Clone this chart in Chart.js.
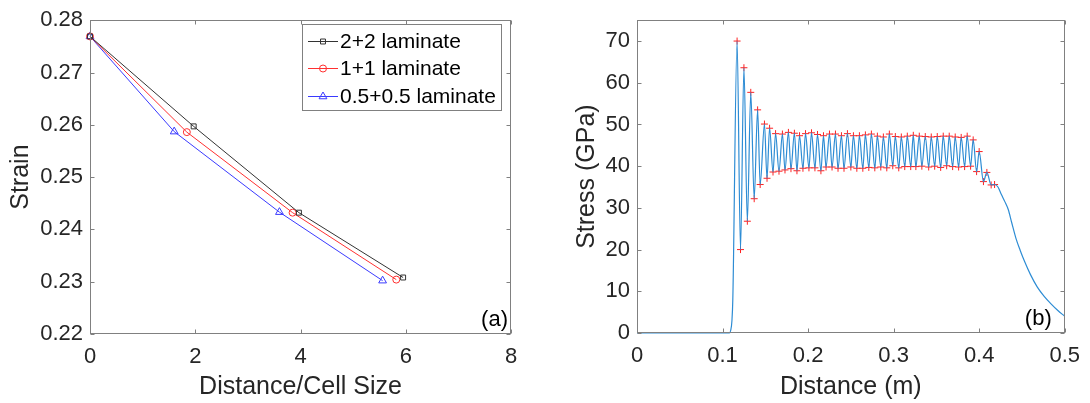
<!DOCTYPE html>
<html>
<head>
<meta charset="utf-8">
<script src="https://cdn.jsdelivr.net/npm/chart.js@4.4.0/dist/chart.umd.min.js"></script>
<style>
  body { margin: 0; background: #fff; width: 1090px; height: 403px; overflow: hidden; position: relative; }
  canvas { position: absolute; top: 0; }
  #chartA { left: 0; }
  #chartB { left: 540px; }
</style>
</head>
<body>
<canvas id="chartA" width="540" height="403"></canvas>
<canvas id="chartB" width="550" height="403"></canvas>
<script>
// ---- panel (a): strain vs distance / cell size ----
const seriesNames = ["2+2 laminate", "1+1 laminate", "0.5+0.5 laminate"];
const x22 = [0, 1.97, 3.97, 5.95];
const y22 = [0.2769, 0.2597, 0.2432, 0.2308];
const x11 = [0, 1.84, 3.85, 5.82];
const y11 = [0.2769, 0.2586, 0.2432, 0.2304];
const x05 = [0, 1.60, 3.60, 5.56];
const y05 = [0.2769, 0.2587, 0.2433, 0.2302];
const xTicksA = [0, 2, 4, 6, 8];
const yTicksA = [0.22, 0.23, 0.24, 0.25, 0.26, 0.27, 0.28];

// ---- panel (b): stress vs distance ----
const riseX = [0, 0.108, 0.1095, 0.111, 0.112];
const riseY = [0, 0, 0.6, 3, 8];
const peakX = [0.117, 0.125, 0.133, 0.141, 0.149, 0.155, 0.162, 0.170, 0.177, 0.184,
               0.190, 0.197, 0.204, 0.211, 0.218, 0.225, 0.232, 0.239, 0.246, 0.253,
               0.260, 0.267, 0.274, 0.281, 0.288, 0.295, 0.302, 0.309, 0.316, 0.323,
               0.330, 0.337, 0.344, 0.351, 0.358, 0.365, 0.372, 0.379, 0.386, 0.393,
               0.400, 0.409];
const peakY = [70.0, 63.6, 57.7, 53.5, 50.1, 49.1, 47.8, 47.7, 48.1, 47.9,
               47.3, 47.8, 48.0, 47.6, 47.3, 47.7, 47.7, 47.3, 47.8, 47.3,
               47.3, 47.5, 47.7, 47.2, 47.0, 47.7, 47.1, 47.0, 47.2, 47.4,
               47.2, 47.1, 47.0, 47.1, 47.2, 47.2, 47.0, 46.9, 47.2, 46.3,
               43.5, 38.5];
const troughX = [0.121, 0.129, 0.137, 0.144, 0.152, 0.159, 0.166, 0.173, 0.180, 0.187,
                 0.194, 0.201, 0.208, 0.215, 0.221, 0.228, 0.235, 0.242, 0.250, 0.257,
                 0.264, 0.271, 0.278, 0.285, 0.292, 0.299, 0.306, 0.313, 0.320, 0.326,
                 0.333, 0.341, 0.348, 0.355, 0.362, 0.369, 0.376, 0.383, 0.390, 0.397,
                 0.405];
const troughY = [20.0, 26.8, 32.2, 35.6, 37.1, 38.6, 38.8, 39.1, 39.4, 38.9,
                 39.5, 39.6, 39.6, 38.9, 39.8, 39.8, 39.5, 39.5, 39.8, 39.5,
                 39.5, 39.7, 39.6, 39.8, 39.6, 40.1, 39.6, 39.9, 39.9, 39.9,
                 40.0, 39.8, 40.0, 39.7, 40.1, 39.9, 39.8, 39.9, 40.0, 38.7,
                 36.3];
const endX = [0.414, 0.418];
const endY = [35.5, 35.6];
const tailX = [0.422, 0.426, 0.430, 0.434, 0.438, 0.443, 0.448, 0.453, 0.460, 0.468, 0.476, 0.484, 0.492, 0.500];
const tailY = [35.0, 33.2, 31.5, 29.6, 26.5, 22.7, 19.8, 17.2, 14.0, 11.0, 8.8, 7.0, 5.4, 4.0];
const xTicksB = [0, 0.1, 0.2, 0.3, 0.4, 0.5];
const yTicksB = [0, 10, 20, 30, 40, 50, 60, 70];

const FONT = "'Liberation Sans', Arial, Helvetica, sans-serif";
const TXT = "#262626";
const AXIS = "#808080";

const pts = (xs, ys) => xs.map((x, i) => ({ x, y: ys[i] }));

// MATLAB style box: border + inward ticks on all four sides + panel tag
const matlabBox = {
    id: "matlabBox",
    afterDatasetsDraw(chart, args, o) {
        const { ctx, chartArea: a, scales } = chart;
        const L = Math.round(a.left) + 0.5, R = Math.round(a.right) - 0.5;
        const T = Math.round(a.top) + 0.5, B = Math.round(a.bottom) - 0.5;
        ctx.save();
        ctx.strokeStyle = AXIS;
        ctx.lineWidth = 1;
        ctx.strokeRect(L, T, R - L, B - T);
        const t = 4;
        ctx.beginPath();
        scales.x.ticks.forEach(tk => {
            let px = Math.round(scales.x.getPixelForValue(tk.value)) + 0.5;
            ctx.moveTo(px, B); ctx.lineTo(px, B - t);
            ctx.moveTo(px, T); ctx.lineTo(px, T + t);
        });
        scales.y.ticks.forEach(tk => {
            let py = Math.round(scales.y.getPixelForValue(tk.value)) + 0.5;
            ctx.moveTo(L, py); ctx.lineTo(L + t, py);
            ctx.moveTo(R, py); ctx.lineTo(R - t, py);
        });
        ctx.stroke();
        ctx.fillStyle = "#000";
        ctx.font = "22px " + FONT;
        ctx.textAlign = "right";
        ctx.textBaseline = "middle";
        ctx.fillText(o.tag, a.right - o.tagRight, a.bottom - 14);
        ctx.restore();
    }
};

// legend box drawn inside the axes, like the MATLAB one
const boxLegend = {
    id: "boxLegend",
    afterDraw(chart, args, o) {
        if (!o.show) return;
        const ctx = chart.ctx;
        ctx.save();
        ctx.fillStyle = "#fff";
        ctx.fillRect(o.left, o.top, o.width, o.height);
        ctx.strokeStyle = AXIS;
        ctx.lineWidth = 1;
        ctx.strokeRect(o.left + 0.5, o.top + 0.5, o.width, o.height);
        chart.data.datasets.forEach((ds, i) => {
            let y = Math.round(o.top + o.firstRow + i * o.rowGap);
            ctx.strokeStyle = ds.borderColor;
            ctx.beginPath();
            ctx.moveTo(o.left + 6, y + 0.5);
            ctx.lineTo(o.left + 36, y + 0.5);
            ctx.stroke();
            ctx.fillStyle = "rgba(0,0,0,0)";
            Chart.helpers.drawPoint(ctx, { pointStyle: ds.pointStyle, radius: ds.pointRadius, borderWidth: 1 }, o.left + 21, y + 0.5);
            ctx.fillStyle = "#000";
            ctx.font = "21px " + FONT;
            ctx.textAlign = "left";
            ctx.textBaseline = "middle";
            ctx.fillText(ds.label, o.left + 38, y + 1);
        });
        ctx.restore();
    }
};

function axisOpts(ticks, min, max, title, titlePad, isY, size) {
    return {
        type: "linear",
        min, max,
        afterBuildTicks: s => { s.ticks = ticks.map(v => ({ value: v })); },
        afterFit: s => { if (isY) s.width = size; else s.height = size; },
        grid: { display: false, drawTicks: false },
        border: { display: false },
        ticks: {
            color: TXT,
            font: { family: FONT, size: 22 },
            padding: isY ? 7 : 10,
            maxRotation: 0,
            autoSkip: false,
            callback: v => String(v)
        },
        title: {
            display: true,
            text: title,
            color: TXT,
            font: { family: FONT, size: 25 },
            padding: isY ? { top: titlePad, bottom: 0 } : { top: 0, bottom: titlePad }
        }
    };
}

const lineStyle = (label, xs, ys, color, style, r) => ({
    label,
    data: pts(xs, ys),
    showLine: true,
    borderColor: color,
    borderWidth: 1,
    backgroundColor: "rgba(0,0,0,0)",
    pointStyle: style,
    pointRadius: r,
    pointBorderWidth: 1,
    pointBorderColor: color,
    pointBackgroundColor: "rgba(0,0,0,0)",
    tension: 0,
    clip: 10
});

new Chart(document.getElementById("chartA"), {
    type: "scatter",
    data: {
        datasets: [
            lineStyle(seriesNames[0], x22, y22, "#333333", "rect", 3.5),
            lineStyle(seriesNames[1], x11, y11, "#ff3030", "circle", 3.5),
            lineStyle(seriesNames[2], x05, y05, "#3a3aff", "triangle", 4.5)
        ]
    },
    options: {
        responsive: false,
        animation: false,
        devicePixelRatio: 1,
        layout: { padding: { left: 0, top: 14, right: 29, bottom: 0 } },
        scales: {
            x: axisOpts(xTicksA, 0, 8, "Distance/Cell Size", 1, false, 69),
            y: axisOpts(yTicksA, 0.22, 0.28, "Strain", 6, true, 90)
        },
        plugins: {
            legend: { display: false },
            tooltip: { enabled: false },
            matlabBox: { tag: "(a)", tagRight: 3 },
            boxLegend: { show: true, left: 302, top: 24, width: 199, height: 86, firstRow: 17, rowGap: 27.4 }
        }
    },
    plugins: [matlabBox, boxLegend]
});

// the stress trace: rise, alternating peak/trough, end markers, then the tail
let stressLine = pts(riseX, riseY);
peakX.forEach((x, i) => {
    stressLine.push({ x, y: peakY[i] });
    if (i < troughX.length) stressLine.push({ x: troughX[i], y: troughY[i] });
});
stressLine = stressLine.concat(pts(endX, endY), pts(tailX, tailY));
const markers = pts(peakX, peakY).concat(pts(troughX, troughY), pts(endX, endY));

new Chart(document.getElementById("chartB"), {
    type: "scatter",
    data: {
        datasets: [
            {
                label: "stress",
                data: stressLine,
                showLine: true,
                borderColor: "rgb(45,140,212)",
                borderWidth: 1.2,
                pointRadius: 0,
                cubicInterpolationMode: "monotone",
                clip: 2
            },
            {
                label: "extrema",
                data: markers,
                showLine: false,
                pointStyle: "cross",
                pointRadius: 3.5,
                pointBorderWidth: 1,
                pointBorderColor: "#ff2020",
                clip: 10
            }
        ]
    },
    options: {
        responsive: false,
        animation: false,
        devicePixelRatio: 1,
        layout: { padding: { left: 0, top: 14, right: 19, bottom: 0 } },
        scales: {
            x: axisOpts(xTicksB, 0, 0.5, "Distance (m)", 1, false, 70),
            y: axisOpts(yTicksB, 0, 75, "Stress (GPa)", 32, true, 97)
        },
        plugins: {
            legend: { display: false },
            tooltip: { enabled: false },
            matlabBox: { tag: "(b)", tagRight: 13 },
            boxLegend: { show: false }
        }
    },
    plugins: [matlabBox, boxLegend]
});
</script>
</body>
</html>
